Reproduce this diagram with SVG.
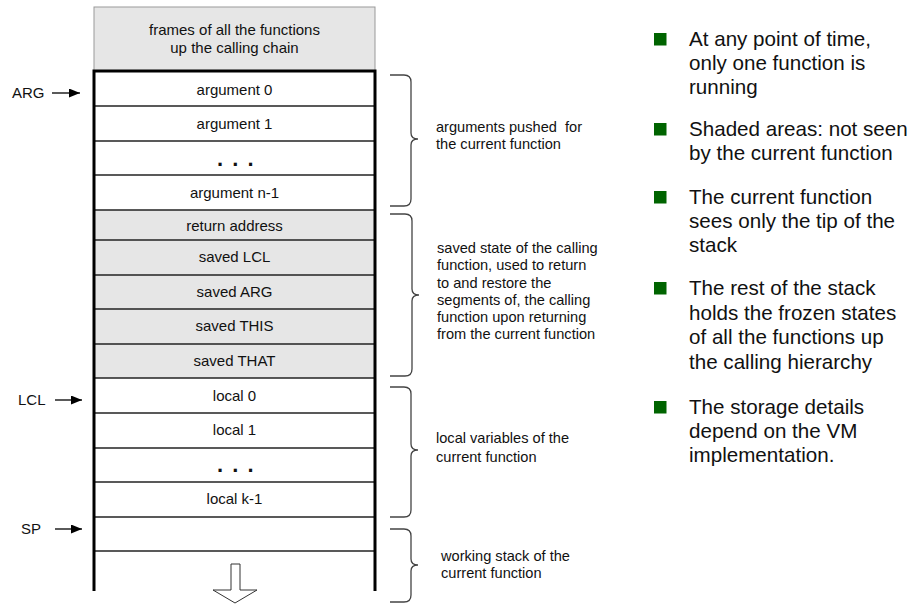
<svg xmlns="http://www.w3.org/2000/svg" width="918" height="605" viewBox="0 0 918 605">
  <style>
    text { font-family: "Liberation Sans", Arial, sans-serif; fill: #111; white-space: pre; }
    .cell { font-size: 15px; text-anchor: middle; }
    .note { font-size: 14.6px; }
    .bullet { font-size: 20.6px; }
    .lbl { font-size: 15px; }
    .dots { font-size: 22px; font-weight: bold; text-anchor: middle; letter-spacing: 1.5px; }
    .row { stroke: #222; stroke-width: 1.3; }
    .shade { fill: #e6e6e6; }
    .wall { stroke: #000; stroke-width: 3; fill: none; }
    .brace { fill: none; stroke: #444; stroke-width: 1.3; }
    .ptr { stroke: #000; stroke-width: 1.3; marker-end: url(#head); }
    .sq { fill: #006400; }
  </style>
  <defs>
    <marker id="head" viewBox="0 0 11 9" refX="11" refY="4.5" markerWidth="11" markerHeight="9" markerUnits="userSpaceOnUse" orient="auto">
      <path d="M0,0 L11,4.5 L0,9 Z" fill="#000"/>
    </marker>
  </defs>

  <!-- frames of the callers -->
  <g id="callers">
    <rect x="94" y="7" width="281" height="64" fill="#e6e6e6" stroke="#999" stroke-width="1"/>
    <text class="cell" x="234.5" y="35">frames of all the functions</text>
    <text class="cell" x="234.5" y="53">up the calling chain</text>
  </g>

  <!-- saved frame of the caller (shaded) -->
  <rect class="shade" x="94" y="210" width="281" height="168"/>

  <!-- argument segment -->
  <g id="arguments">
    <line class="row" x1="94" y1="106" x2="375" y2="106"/>
    <line class="row" x1="94" y1="141" x2="375" y2="141"/>
    <line class="row" x1="94" y1="175" x2="375" y2="175"/>
    <text class="cell" x="234.5" y="95">argument 0</text>
    <text class="cell" x="234.5" y="129">argument 1</text>
    <text class="dots" x="236" y="166">. . .</text>
    <text class="cell" x="234.5" y="198">argument n-1</text>
  </g>

  <!-- saved state -->
  <g id="saved-state">
    <line class="row" x1="94" y1="210" x2="375" y2="210"/>
    <line class="row" x1="94" y1="240" x2="375" y2="240"/>
    <line class="row" x1="94" y1="275" x2="375" y2="275"/>
    <line class="row" x1="94" y1="309" x2="375" y2="309"/>
    <line class="row" x1="94" y1="344" x2="375" y2="344"/>
    <line class="row" x1="94" y1="378" x2="375" y2="378"/>
    <text class="cell" x="234.5" y="231">return address</text>
    <text class="cell" x="234.5" y="262">saved LCL</text>
    <text class="cell" x="234.5" y="297">saved ARG</text>
    <text class="cell" x="234.5" y="331">saved THIS</text>
    <text class="cell" x="234.5" y="366">saved THAT</text>
  </g>

  <!-- local segment -->
  <g id="locals">
    <line class="row" x1="94" y1="413" x2="375" y2="413"/>
    <line class="row" x1="94" y1="448" x2="375" y2="448"/>
    <line class="row" x1="94" y1="482" x2="375" y2="482"/>
    <line class="row" x1="94" y1="517" x2="375" y2="517"/>
    <text class="cell" x="234.5" y="401">local 0</text>
    <text class="cell" x="234.5" y="435">local 1</text>
    <text class="dots" x="236" y="472">. . .</text>
    <text class="cell" x="234.5" y="504">local k-1</text>
  </g>

  <!-- working stack -->
  <g id="working-stack">
    <line class="row" x1="94" y1="551" x2="375" y2="551"/>
    <polygon points="231,564 240,564 240,590 257,590 235,603 213,590 231,590" fill="#fff" stroke="#333" stroke-width="1"/>
  </g>

  <!-- stack walls -->
  <g id="stack-frame">
    <path class="wall" d="M94,591 V71 H375 V591"/>
  </g>

  <!-- pointer labels -->
  <g id="pointer-labels">
    <text class="lbl" x="12" y="98">ARG</text>
    <text class="lbl" x="18" y="405">LCL</text>
    <text class="lbl" x="21" y="534">SP</text>
  </g>

  <g id="connectors">
    <line class="ptr" x1="52" y1="93" x2="80" y2="93"/>
    <line class="ptr" x1="55" y1="400" x2="82" y2="400"/>
    <line class="ptr" x1="55" y1="529" x2="82" y2="529"/>
  </g>

  <!-- braces with descriptions -->
  <g id="brace-args">
    <path class="brace" d="M390,75 H404 Q411,75 411,82 V133 Q411,139 418,139 Q411,139 411,145 V199 Q411,206 404,206 H390"/>
    <text class="note" x="436" y="132" xml:space="preserve">arguments pushed  for</text>
    <text class="note" x="436" y="149">the current function</text>
  </g>
  <g id="brace-saved">
    <path class="brace" d="M390,214 H405 Q412,214 412,221 V289 Q412,295 419,295 Q412,295 412,301 V369 Q412,376 405,376 H390"/>
    <text class="note" x="437" y="253">saved state of the calling</text>
    <text class="note" x="437" y="270">function, used to return</text>
    <text class="note" x="437" y="287.5">to and restore the</text>
    <text class="note" x="437" y="304.5">segments of, the calling</text>
    <text class="note" x="437" y="321.5">function upon returning</text>
    <text class="note" x="437" y="339">from the current function</text>
  </g>
  <g id="brace-locals">
    <path class="brace" d="M390,387 H404 Q411,387 411,394 V444 Q411,450 418,450 Q411,450 411,456 V510 Q411,517 404,517 H390"/>
    <text class="note" x="436" y="443">local variables of the</text>
    <text class="note" x="436" y="462">current function</text>
  </g>
  <g id="brace-working">
    <path class="brace" d="M390,529 H404 Q411,529 411,536 V559 Q411,565 418,565 Q411,565 411,571 V595 Q411,602 404,602 H390"/>
    <text class="note" x="441" y="561">working stack of the</text>
    <text class="note" x="441" y="578">current function</text>
  </g>

  <!-- bullet points -->
  <g id="bullets">
    <rect class="sq" x="654" y="33" width="12.5" height="12.5"/>
    <text class="bullet" x="689" y="46">At any point of time,</text>
    <text class="bullet" x="689" y="70">only one function is</text>
    <text class="bullet" x="689" y="94">running</text>

    <rect class="sq" x="654" y="123" width="12.5" height="12.5"/>
    <text class="bullet" x="689" y="136">Shaded areas: not seen</text>
    <text class="bullet" x="689" y="160">by the current function</text>

    <rect class="sq" x="654" y="191" width="12.5" height="12.5"/>
    <text class="bullet" x="689" y="204">The current function</text>
    <text class="bullet" x="689" y="228">sees only the tip of the</text>
    <text class="bullet" x="689" y="252">stack</text>

    <rect class="sq" x="654" y="282" width="12.5" height="12.5"/>
    <text class="bullet" x="689" y="295">The rest of the stack</text>
    <text class="bullet" x="689" y="320">holds the frozen states</text>
    <text class="bullet" x="689" y="344">of all the functions up</text>
    <text class="bullet" x="689" y="369">the calling hierarchy</text>

    <rect class="sq" x="654" y="401" width="12.5" height="12.5"/>
    <text class="bullet" x="689" y="414">The storage details</text>
    <text class="bullet" x="689" y="438">depend on the VM</text>
    <text class="bullet" x="689" y="462">implementation.</text>
  </g>
</svg>
